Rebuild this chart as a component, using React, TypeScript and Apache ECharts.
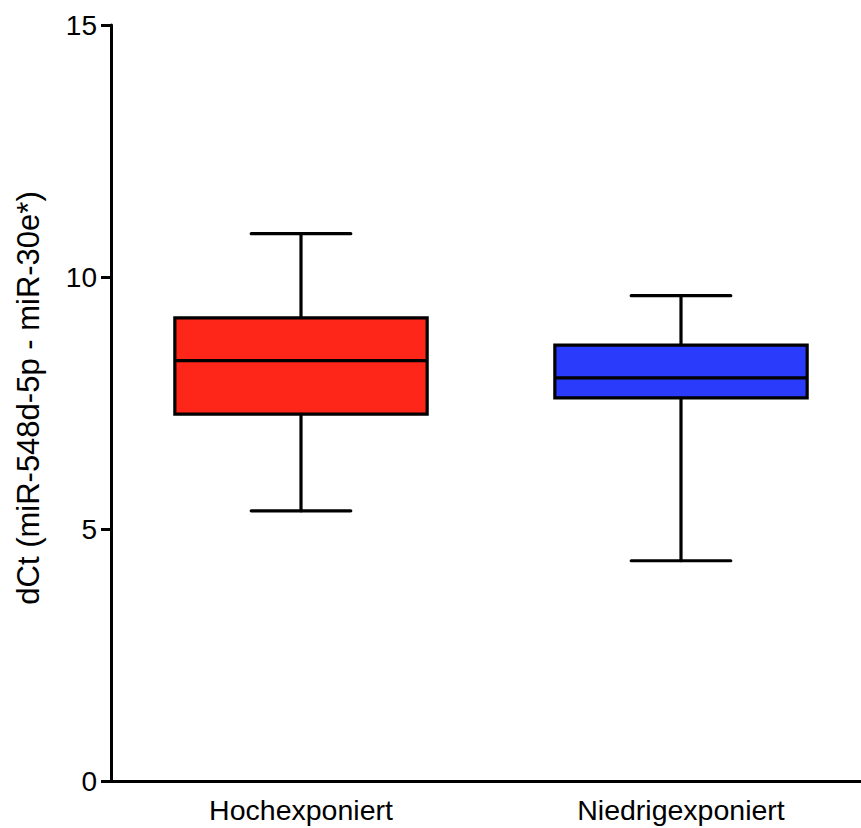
import React, { useEffect, useRef } from "react";
import * as echarts from "echarts";

const categories = ["Hochexponiert", "Niedrigexponiert"];
// [min, q1, median, q3, max]
const boxValues = [
  [5.36, 7.28, 8.34, 9.19, 10.86],
  [4.37, 7.6, 8.0, 8.65, 9.63],
];
const boxColors = ["#fe2618", "#2b3bfb"];
const yTicks = [0, 5, 10, 15];
const yTitle = "dCt (miR-548d-5p - miR-30e*)";

export default function App() {
  const ref = useRef<HTMLDivElement>(null);
  useEffect(() => {
    if (!ref.current) return;
    const chart = echarts.init(ref.current, null, { renderer: "svg" });
    const font = "'Liberation Sans', Arial, sans-serif";
    const data = boxValues.map((v, i) => [i, ...v]);
    chart.setOption({
      animation: false,
      grid: { left: 111, top: 25, width: 760, height: 756 },
      xAxis: {
        type: "category",
        data: categories,
        axisLine: { lineStyle: { color: "#000", width: 3 } },
        axisTick: { alignWithLabel: true, length: 12, lineStyle: { color: "#000", width: 3 } },
        axisLabel: { color: "#000", fontSize: 28.5, fontFamily: font, margin: 14 },
      },
      yAxis: {
        type: "value",
        min: yTicks[0],
        max: yTicks[yTicks.length - 1],
        interval: 5,
        splitLine: { show: false },
        axisLine: { show: true, lineStyle: { color: "#000", width: 3 } },
        axisTick: { show: true, length: 10, lineStyle: { color: "#000", width: 3 } },
        axisLabel: { color: "#000", fontSize: 28, fontFamily: font, margin: 14 },
      },
      graphic: [
        {
          type: "text",
          x: 28,
          y: 398,
          rotation: Math.PI / 2,
          style: {
            text: yTitle,
            fontSize: 31,
            fontFamily: font,
            fill: "#000",
            textAlign: "center",
            textVerticalAlign: "middle",
          },
        },
      ],
      series: [
        {
          type: "custom",
          encode: { x: 0, y: [1, 2, 3, 4, 5] },
          data,
          renderItem: (params: any, api: any) => {
            const idx = api.value(0);
            const vmin = api.value(1);
            const q1 = api.value(2);
            const med = api.value(3);
            const q3 = api.value(4);
            const vmax = api.value(5);
            const band = api.size([1, 0])[0];
            const boxW = band * 0.664;
            const capW = band * 0.262;
            const pMin = api.coord([idx, vmin]);
            const pQ1 = api.coord([idx, q1]);
            const pMed = api.coord([idx, med]);
            const pQ3 = api.coord([idx, q3]);
            const pMax = api.coord([idx, vmax]);
            const cx = pMed[0];
            const ls = { stroke: "#000", lineWidth: 3.2, lineCap: "round" };
            return {
              type: "group",
              children: [
                { type: "line", shape: { x1: cx, y1: pMax[1], x2: cx, y2: pQ3[1] }, style: ls },
                { type: "line", shape: { x1: cx, y1: pQ1[1], x2: cx, y2: pMin[1] }, style: ls },
                { type: "line", shape: { x1: cx - capW / 2, y1: pMax[1], x2: cx + capW / 2, y2: pMax[1] }, style: ls },
                { type: "line", shape: { x1: cx - capW / 2, y1: pMin[1], x2: cx + capW / 2, y2: pMin[1] }, style: ls },
                {
                  type: "rect",
                  shape: { x: cx - boxW / 2, y: pQ3[1], width: boxW, height: pQ1[1] - pQ3[1] },
                  style: { fill: boxColors[idx], stroke: "#000", lineWidth: 3.2 },
                },
                { type: "line", shape: { x1: cx - boxW / 2, y1: pMed[1], x2: cx + boxW / 2, y2: pMed[1] }, style: { stroke: "#000", lineWidth: 3.2 } },
              ],
            };
          },
        },
      ],
    });
    return () => chart.dispose();
  }, []);
  return (
    <div
      style={{ position: "absolute", left: 0, top: 0, width: 861, height: 828, overflow: "hidden", background: "#fff" }}
    >
      <div ref={ref} style={{ width: 900, height: 828 }} />
    </div>
  );
}
